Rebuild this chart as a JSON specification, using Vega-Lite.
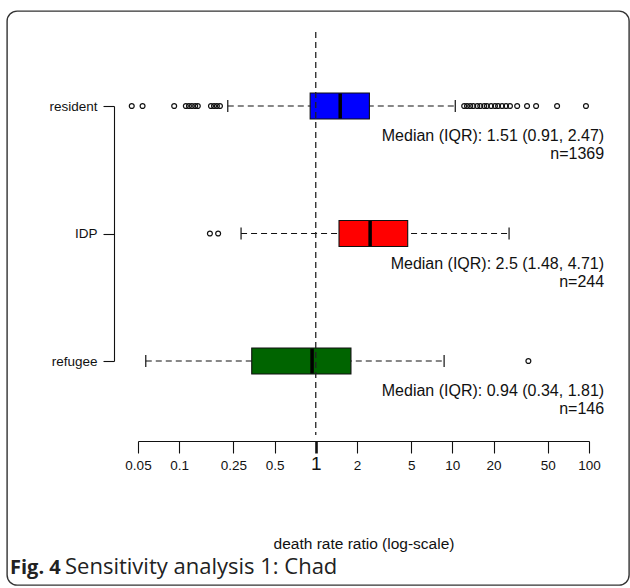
{
  "$schema": "https://vega.github.io/schema/vega-lite/v6.json",
  "width": 622,
  "height": 574,
  "autosize": {"type": "none"},
  "padding": {"left": 7, "top": 11, "right": 1, "bottom": 3},
  "background": "white",
  "config": {
    "view": {"stroke": "#333333", "strokeWidth": 1.4, "cornerRadius": 10},
    "font": "Liberation Sans"
  },
  "title": {
    "text": "Fig. 4",
    "orient": "bottom",
    "anchor": "start",
    "frame": "group",
    "offset": -27,
    "dx": 3,
    "font": "Open Sans",
    "fontSize": 20,
    "fontWeight": "bold",
    "color": "#222222"
  },
  "datasets": {
    "stats": [
      {"group": "resident", "lower": 0.227, "q1": 0.91, "median": 1.51, "q3": 2.47, "upper": 10.5, "stat": "Median (IQR): 1.51 (0.91, 2.47)", "nlab": "n=1369"},
      {"group": "IDP", "lower": 0.284, "q1": 1.48, "median": 2.5, "q3": 4.71, "upper": 26, "stat": "Median (IQR): 2.5 (1.48, 4.71)", "nlab": "n=244"},
      {"group": "refugee", "lower": 0.057, "q1": 0.34, "median": 0.94, "q3": 1.81, "upper": 8.7, "stat": "Median (IQR): 0.94 (0.34, 1.81)", "nlab": "n=146"}
    ],
    "outliers": [
      {"group": "resident", "value": 0.045},
      {"group": "resident", "value": 0.054},
      {"group": "resident", "value": 0.092},
      {"group": "resident", "value": 0.112},
      {"group": "resident", "value": 0.118},
      {"group": "resident", "value": 0.124},
      {"group": "resident", "value": 0.131},
      {"group": "resident", "value": 0.137},
      {"group": "resident", "value": 0.171},
      {"group": "resident", "value": 0.18},
      {"group": "resident", "value": 0.189},
      {"group": "resident", "value": 0.199},
      {"group": "resident", "value": 12.2},
      {"group": "resident", "value": 12.8},
      {"group": "resident", "value": 13.5},
      {"group": "resident", "value": 14.2},
      {"group": "resident", "value": 15.2},
      {"group": "resident", "value": 16.0},
      {"group": "resident", "value": 17.1},
      {"group": "resident", "value": 17.9},
      {"group": "resident", "value": 19.2},
      {"group": "resident", "value": 20.5},
      {"group": "resident", "value": 21.6},
      {"group": "resident", "value": 23.1},
      {"group": "resident", "value": 24.7},
      {"group": "resident", "value": 26.4},
      {"group": "resident", "value": 29.8},
      {"group": "resident", "value": 35.2},
      {"group": "resident", "value": 41.0},
      {"group": "resident", "value": 58.4},
      {"group": "resident", "value": 95},
      {"group": "IDP", "value": 0.168},
      {"group": "IDP", "value": 0.193},
      {"group": "refugee", "value": 36}
    ]
  },
  "layer": [
    {
      "data": {"name": "stats"},
      "mark": {"type": "rule", "strokeDash": [6, 4], "color": "#111111", "strokeWidth": 1.1},
      "encoding": {
        "x": {
          "field": "lower",
          "type": "quantitative",
          "scale": {"type": "log", "domain": [0.05, 100], "range": [131, 582], "nice": false, "zero": false},
          "axis": {
            "orient": "bottom",
            "offset": -144,
            "values": [0.05, 0.1, 0.25, 0.5, 1, 2, 5, 10, 20, 50, 100],
            "format": "~g",
            "grid": false,
            "domain": true,
            "domainColor": "#111111",
            "domainWidth": 1.1,
            "ticks": true,
            "tickColor": "#111111",
            "tickSize": 12,
            "tickWidth": {"expr": "datum.value === 1 ? 2.6 : 1.1"},
            "labelFont": "Liberation Sans",
            "labelFontSize": {"expr": "datum.value === 1 ? 19 : 13.5"},
            "labelColor": "#111111",
            "labelBaseline": "alphabetic",
            "labelPadding": 16,
            "labelFlush": false,
            "labelOverlap": false,
            "labelBound": false,
            "title": "death rate ratio (log-scale)",
            "titleFont": "Liberation Sans",
            "titleFontSize": 15.5,
            "titleFontWeight": "normal",
            "titleColor": "#111111",
            "titleBaseline": "alphabetic",
            "titleY": 107
          }
        },
        "x2": {"field": "upper"},
        "y": {
          "field": "group",
          "type": "nominal",
          "scale": {"type": "point", "domain": ["resident", "IDP", "refugee"], "range": [95, 350], "padding": 0},
          "axis": {
            "orient": "left",
            "offset": -107,
            "title": null,
            "grid": false,
            "domain": true,
            "domainColor": "#111111",
            "domainWidth": 1.1,
            "ticks": true,
            "tickColor": "#111111",
            "tickWidth": 1.1,
            "tickSize": 11,
            "labelPadding": 6,
            "labelFont": "Liberation Sans",
            "labelFontSize": 13.5,
            "labelColor": "#111111"
          }
        }
      }
    },
    {
      "data": {"name": "stats"},
      "mark": {"type": "bar", "orient": "horizontal", "size": 26, "stroke": "#111111", "strokeWidth": 1.1},
      "encoding": {
        "x": {"field": "q1", "type": "quantitative"},
        "x2": {"field": "q3"},
        "y": {"field": "group", "type": "nominal"},
        "color": {
          "field": "group",
          "type": "nominal",
          "scale": {"domain": ["resident", "IDP", "refugee"], "range": ["#0000FF", "#FF0000", "#006400"]},
          "legend": null
        }
      }
    },
    {
      "data": {"name": "stats"},
      "mark": {"type": "tick", "orient": "vertical", "size": 25, "thickness": 3.5, "color": "#000000", "opacity": 1},
      "encoding": {
        "x": {"field": "median", "type": "quantitative"},
        "y": {"field": "group", "type": "nominal"}
      }
    },
    {
      "data": {"name": "stats"},
      "mark": {"type": "tick", "orient": "vertical", "size": 12, "thickness": 1.2, "color": "#111111", "opacity": 1},
      "encoding": {
        "x": {"field": "lower", "type": "quantitative"},
        "y": {"field": "group", "type": "nominal"}
      }
    },
    {
      "data": {"name": "stats"},
      "mark": {"type": "tick", "orient": "vertical", "size": 12, "thickness": 1.2, "color": "#111111", "opacity": 1},
      "encoding": {
        "x": {"field": "upper", "type": "quantitative"},
        "y": {"field": "group", "type": "nominal"}
      }
    },
    {
      "data": {"name": "outliers"},
      "mark": {"type": "point", "shape": "circle", "filled": false, "size": 24, "strokeWidth": 1.2, "color": "#111111", "opacity": 1},
      "encoding": {
        "x": {"field": "value", "type": "quantitative"},
        "y": {"field": "group", "type": "nominal"}
      }
    },
    {
      "data": {"values": [{}]},
      "mark": {"type": "rule", "strokeDash": [6, 4], "color": "#222222", "strokeWidth": 1.3, "yOffset": -74, "y2Offset": 74},
      "encoding": {
        "x": {"datum": 1, "type": "quantitative"},
        "y": {"datum": "resident", "type": "nominal"},
        "y2": {"datum": "refugee"}
      }
    },
    {
      "data": {"name": "stats"},
      "mark": {"type": "text", "align": "right", "baseline": "middle", "dy": 30, "font": "Liberation Sans", "fontSize": 16, "color": "#111111"},
      "encoding": {
        "x": {"datum": 129, "type": "quantitative"},
        "y": {"field": "group", "type": "nominal"},
        "text": {"field": "stat"}
      }
    },
    {
      "data": {"name": "stats"},
      "mark": {"type": "text", "align": "right", "baseline": "middle", "dy": 48, "font": "Liberation Sans", "fontSize": 16, "color": "#111111"},
      "encoding": {
        "x": {"datum": 129, "type": "quantitative"},
        "y": {"field": "group", "type": "nominal"},
        "text": {"field": "nlab"}
      }
    },
    {
      "data": {"values": [{}]},
      "mark": {"type": "text", "text": "Sensitivity analysis 1: Chad", "align": "left", "baseline": "alphabetic", "dx": -73, "dy": 213, "font": "Open Sans", "fontSize": 22, "color": "#222222"},
      "encoding": {
        "x": {"datum": 0.05, "type": "quantitative"},
        "y": {"datum": "refugee", "type": "nominal"}
      }
    }
  ]
}
